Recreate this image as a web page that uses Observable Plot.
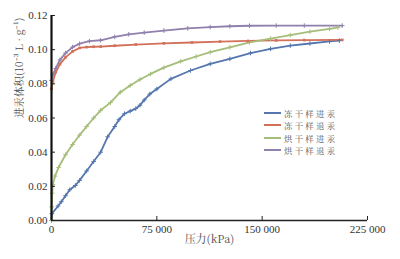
<!DOCTYPE html>
<html><head><meta charset="utf-8">
<script src="https://cdn.jsdelivr.net/npm/d3@7"></script>
<script src="https://cdn.jsdelivr.net/npm/@observablehq/plot@0.6"></script>
<style>
body{margin:0;background:#fff;}
#wrap{position:relative;width:400px;height:259px;}
#legend{position:absolute;left:264px;top:107px;font-family:"Noto Serif CJK SC","Noto Sans CJK SC",sans-serif;font-size:8.4px;color:#555;}
#legend .it{display:flex;align-items:center;white-space:nowrap;height:12.3px;line-height:12.3px;letter-spacing:2.3px;}
#legend .ln{display:inline-block;width:17px;height:2px;margin-right:3px;}
</style></head>
<body><div id="wrap"><div id="legend"></div></div>
<script>
const seriesNames = ["冻干样进汞","冻干样退汞","烘干样进汞","烘干样退汞"];
const seriesColors = ["#5577ad","#d2705a","#a6bd7a","#8f80ac"];
const xTicks = [0, 75000, 150000, 225000];
const yTicks = [0, 0.02, 0.04, 0.06, 0.08, 0.10, 0.12];

const frzInX = [0,300,4700,7000,10000,13000,17000,20000,25000,30000,35000,40000,45000,48000,52000,56000,60000,63000,66000,70000,75000,85000,99000,113000,127000,141700,156000,170000,184000,198000,205000];
const frzInY = [0,0.004,0.0085,0.011,0.0145,0.018,0.0205,0.0235,0.029,0.0345,0.040,0.049,0.055,0.059,0.0625,0.064,0.0655,0.0675,0.0705,0.074,0.077,0.0829,0.0878,0.0917,0.0946,0.098,0.1005,0.1024,0.1036,0.1048,0.1053];

const frzOutX = [0,1000,3000,6000,10000,15000,20000,25000,30000,35000,45000,60000,80000,100000,120000,140000,160000,180000,207000];
const frzOutY = [0.077,0.0815,0.0868,0.0915,0.0955,0.099,0.101,0.1015,0.1017,0.1018,0.1023,0.103,0.1037,0.1042,0.1047,0.1051,0.1054,0.1056,0.1057];

const ovnInX = [0,200,500,1000,2500,5000,10000,15000,20000,25000,30000,35000,42000,49000,56000,63000,70500,80000,92000,103000,113000,127000,141000,156000,170000,184000,198000,204000];
const ovnInY = [0,0.008,0.016,0.021,0.026,0.031,0.0385,0.0445,0.050,0.055,0.060,0.0645,0.069,0.0751,0.079,0.0825,0.0858,0.0895,0.0932,0.096,0.0985,0.1014,0.1043,0.1065,0.1085,0.1105,0.1122,0.113];

const ovnOutX = [0,1000,3000,6000,10000,15000,20000,27000,35000,45000,55000,66000,80000,97000,113000,127000,141000,160000,180000,207000];
const ovnOutY = [0.082,0.0855,0.089,0.094,0.098,0.1015,0.1035,0.105,0.1055,0.1075,0.109,0.110,0.1112,0.1125,0.1132,0.1137,0.114,0.1141,0.1141,0.1141];

const build = (xs, ys, s) => xs.map((x, i) => ({x, y: ys[i], s}));
const data = [
  ...build(frzInX, frzInY, seriesNames[0]),
  ...build(frzOutX, frzOutY, seriesNames[1]),
  ...build(ovnInX, ovnInY, seriesNames[2]),
  ...build(ovnOutX, ovnOutY, seriesNames[3])
];

const loc = d3.formatLocale({decimal:".", thousands:" ", grouping:[3], currency:["",""]});
const fx = loc.format(",");
const fy = d3.format(".2f");
const serif = "'Liberation Serif','DejaVu Serif',serif";
const cjk = "'Noto Serif CJK SC','Noto Sans CJK SC',sans-serif";

const chart = Plot.plot({
  width: 400, height: 259,
  marginLeft: 51, marginRight: 33, marginTop: 15, marginBottom: 39,
  style: {fontFamily: serif, fontSize: "11px", color: "#333", background: "#fff"},
  x: {domain: [0, 225000], label: null},
  y: {domain: [0, 0.12], label: null},
  color: {domain: seriesNames, range: seriesColors},
  marks: [
    Plot.line(data, {x: "x", y: "y", z: "s", stroke: "s", strokeWidth: 1.8}),
    Plot.dot(data.filter(d => d.s !== seriesNames[1]), {x: "x", y: "y", stroke: "s", symbol: "plus", r: 1.6, strokeWidth: 1}),
    Plot.dot(data.filter(d => d.s === seriesNames[1]), {x: "x", y: "y", fill: "s", symbol: "square", r: 1.5}),
    Plot.axisX({ticks: xTicks, tickSize: 0, tickPadding: 5, tickFormat: fx, label: null, fontSize: 11}),
    Plot.axisX({ticks: xTicks, tickSize: 4, text: null, label: null, dy: -4, stroke: "#222"}),
    Plot.axisY({ticks: yTicks, tickSize: 0, tickPadding: 4, tickFormat: fy, label: null, fontSize: 11}),
    Plot.axisY({ticks: yTicks, tickSize: 4, text: null, label: null, dx: 4, stroke: "#222"}),
    Plot.ruleY([0], {stroke: "#222", strokeWidth: 1.5}),
    Plot.ruleX([0], {stroke: "#111", strokeWidth: 2.2}),
    Plot.text(["压力(kPa)"], {frameAnchor: "bottom", dy: 22, fill: "#4d4d4d", fontSize: 11, fontFamily: cjk}),
    Plot.text(["进汞体积(10⁻³ L · g⁻¹)"], {frameAnchor: "left", dx: -32, rotate: -90, fill: "#4d4d4d", fontSize: 10.5, fontFamily: cjk})
  ]
});
document.getElementById("wrap").prepend(chart);

const lg = document.getElementById("legend");
seriesNames.forEach((n, i) => {
  const it = document.createElement("div");
  it.className = "it";
  const ln = document.createElement("span");
  ln.className = "ln";
  ln.style.background = seriesColors[i];
  const t = document.createElement("span");
  t.textContent = n;
  it.append(ln, t);
  lg.append(it);
});
</script></body></html>
